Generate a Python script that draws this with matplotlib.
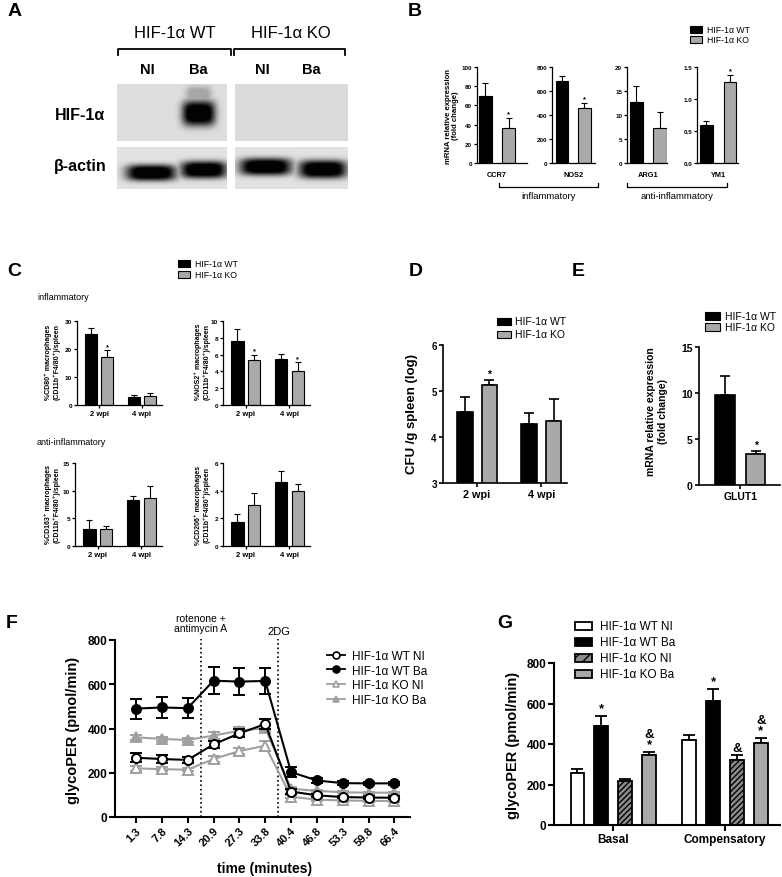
import numpy as np
import matplotlib
matplotlib.use('Agg')
import matplotlib.pyplot as plt
from matplotlib.patches import Rectangle
from matplotlib.lines import Line2D

plt.rcParams['font.family'] = ['Liberation Sans', 'DejaVu Sans']
plt.rcParams['hatch.linewidth'] = 1.0

# ---------------- DATA ----------------
# Panel A (western blot band intensities, lanes: WT NI, WT Ba, KO NI, KO Ba)
A_lanes = ['NI', 'Ba', 'NI', 'Ba']
A_hif_intensity = [0.0, 1.0, 0.0, 0.0]
A_actin_intensity = [1.0, 1.0, 1.0, 1.0]

# Panel B
B_genes = ['CCR7', 'NOS2', 'ARG1', 'YM1']
B_wt = [70, 685, 12.8, 0.60]
B_wt_err = [13, 40, 3.3, 0.05]
B_ko = [36.5, 462, 7.2, 1.26]
B_ko_err = [10.5, 40, 3.5, 0.12]
B_sig = [True, True, False, True]
B_yticks = [[0, 20, 40, 60, 80, 100], [0, 200, 400, 600, 800], [0, 5, 10, 15, 20], [0.0, 0.5, 1.0, 1.5]]

# Panel C
C_groups = ['2 wpi', '4 wpi']
C_names = ['CD80', 'NOS2', 'CD163', 'CD206']
C_wt = [[25.2, 3.0], [7.6, 5.5], [3.0, 8.3], [1.75, 4.65]]
C_wt_err = [[2.3, 0.7], [1.4, 0.55], [1.7, 0.7], [0.55, 0.75]]
C_ko = [[17.2, 3.2], [5.3, 4.0], [3.0, 8.6], [2.95, 3.95]]
C_ko_err = [[2.3, 1.2], [0.7, 1.1], [0.7, 2.2], [0.9, 0.55]]
C_sig = [[True, False], [True, True], [False, False], [False, False]]
C_yticks = [[0, 10, 20, 30], [0, 2, 4, 6, 8, 10], [0, 5, 10, 15], [0, 2, 4, 6]]

# Panel D
D_groups = ['2 wpi', '4 wpi']
D_wt = [4.55, 4.28]
D_wt_err = [0.32, 0.25]
D_ko = [5.13, 4.35]
D_ko_err = [0.12, 0.47]
D_sig = [True, False]

# Panel E
E_gene = ['GLUT1']
E_wt = [9.8]
E_wt_err = [2.0]
E_ko = [3.4]
E_ko_err = [0.35]

# Panel F
F_times = ['1.3', '7.8', '14.3', '20.9', '27.3', '33.8', '40.4', '46.8', '53.3', '59.8', '66.4']
F_wt_ni = [268, 262, 258, 328, 378, 420, 115, 98, 90, 88, 87]
F_wt_ni_err = [20, 18, 12, 15, 18, 24, 10, 8, 6, 6, 6]
F_wt_ba = [490, 495, 492, 616, 612, 615, 203, 165, 153, 152, 152]
F_wt_ba_err = [45, 47, 45, 62, 60, 58, 22, 12, 8, 8, 8]
F_ko_ni = [220, 216, 214, 262, 298, 322, 92, 78, 75, 73, 72]
F_ko_ni_err = [10, 10, 8, 12, 15, 22, 6, 5, 5, 5, 5]
F_ko_ba = [360, 353, 348, 368, 390, 402, 128, 118, 112, 110, 110]
F_ko_ba_err = [12, 10, 10, 15, 15, 15, 8, 6, 5, 5, 5]
F_injection_after = [2, 5]
F_injection_names = ['rotenone +\nantimycin A', '2DG']

# Panel G
G_groups = ['Basal', 'Compensatory']
G_labels = ['HIF-1α WT NI', 'HIF-1α WT Ba', 'HIF-1α KO NI', 'HIF-1α KO Ba']
G_vals = [[255, 418], [490, 613], [215, 320], [347, 405]]
G_errs = [[20, 28], [48, 60], [10, 25], [15, 25]]
G_marks = [['', ''], ['*', '*'], ['', '&'], ['&\n*', '&\n*']]

# ---------------- LAYOUT HELPERS ----------------
W, H = 782, 878
fig = plt.figure(figsize=(W / 100, H / 100), dpi=100)
GREY = '#a9a9a9'
LGREY = '#a0a0a0'


def add_ax(x0, y0, x1, y1):
    return fig.add_axes([x0 / W, 1 - y1 / H, (x1 - x0) / W, (y1 - y0) / H])


def ftext(x, y, s, **kw):
    kw.setdefault('ha', 'center')
    kw.setdefault('va', 'center')
    fig.text(x / W, 1 - y / H, s, **kw)


def fline(xs, ys, **kw):
    fig.add_artist(Line2D([x / W for x in xs], [1 - y / H for y in ys],
                          transform=fig.transFigure, **kw))


def fsquare(x0, y0, x1, y1, **kw):
    fig.add_artist(Rectangle((x0 / W, 1 - y1 / H), (x1 - x0) / W, (y1 - y0) / H,
                             transform=fig.transFigure, **kw))


def style_ax(ax, lw=1.0, tl=3):
    for s in ['top', 'right']:
        ax.spines[s].set_visible(False)
    for s in ['left', 'bottom']:
        ax.spines[s].set_linewidth(lw)
    ax.tick_params(direction='out', length=tl, width=lw, pad=1.5)
    ax.patch.set_visible(False)


def bar_pair(ax, pos, wt, wt_err, ko, ko_err, off, width, lw, caps):
    pos = np.asarray(pos, dtype=float)
    n = len(pos)
    ax.bar(pos - off, wt, width, color='black', edgecolor='black', linewidth=lw, zorder=2)
    ax.bar(pos + off, ko, width, color=GREY, edgecolor='black', linewidth=lw, zorder=2)
    ax.errorbar(pos - off, wt, yerr=[np.zeros(n), wt_err], fmt='none', ecolor='black',
                elinewidth=lw, capsize=caps, capthick=lw, zorder=1)
    ax.errorbar(pos + off, ko, yerr=[np.zeros(n), ko_err], fmt='none', ecolor='black',
                elinewidth=lw, capsize=caps, capthick=lw, zorder=1)


def star(ax, x, top, s, fs, dy=0.5):
    ax.annotate(s, (x, top), xytext=(0, dy), textcoords='offset points', ha='center',
                va='bottom', fontsize=fs, fontweight='bold', linespacing=0.85)


# ---------------- PANEL A ----------------
ftext(15, 12, 'A', fontsize=14, fontweight='bold')
ftext(175, 33, 'HIF-1α WT', fontsize=12)
ftext(291, 33, 'HIF-1α KO', fontsize=12)
fline([118, 118, 231, 231], [56, 50, 50, 56], color='black', lw=1.3)
fline([234, 234, 345, 345], [56, 50, 50, 56], color='black', lw=1.3)
for xl, lab in zip([147, 198, 262, 311], A_lanes):
    ftext(xl, 70, lab, fontsize=10.5, fontweight='bold')
ftext(80, 115, 'HIF-1α', fontsize=11.5, fontweight='bold')
ftext(80, 167, 'β-actin', fontsize=11.5, fontweight='bold')


def blot(box, bands, bg):
    x0, y0, x1, y1 = box
    ax = add_ax(x0, y0, x1, y1)
    w, h = x1 - x0, y1 - y0
    yy, xx = np.mgrid[0:h * 2, 0:w * 2] / 2.0
    dark = np.zeros_like(xx)
    for cx, cy, sx, sy, inten in bands:
        shape = np.exp(-np.abs((xx - cx) / sx) ** 4 - np.abs((yy - cy) / sy) ** 3)
        dark = np.maximum(dark, inten * np.clip(shape * 1.25, 0, 1))
    img = bg * (1 - dark) + 2 * dark
    ax.imshow(img, cmap='gray', vmin=0, vmax=255, extent=(0, w, h, 0), aspect='auto',
              interpolation='bilinear')
    ax.set_axis_off()


hif_wt = [(30, 28, 16, 12, A_hif_intensity[0]), (81.5, 29, 16.5, 12.5, A_hif_intensity[1]),
          (81.5, 11, 13, 9, 0.25 * A_hif_intensity[1])]
hif_ko = [(30, 28, 16, 12, A_hif_intensity[2]), (87, 28, 16, 12, A_hif_intensity[3])]
act_wt = [(34, 25.5, 25, 8, A_actin_intensity[0]), (86.5, 22.5, 23, 8.5, A_actin_intensity[1])]
act_ko = [(30.5, 19.5, 26, 8.5, A_actin_intensity[2]), (87.5, 22, 24, 9, A_actin_intensity[3])]
blot((117, 85, 227, 142), hif_wt, 222)
blot((235, 85, 348, 142), hif_ko, 219)
blot((117, 148, 227, 190), act_wt, 226)
blot((235, 148, 348, 190), act_ko, 226)

# ---------------- PANEL B ----------------
ftext(415, 12, 'B', fontsize=14, fontweight='bold')
fsquare(690, 27, 702, 34, facecolor='black', edgecolor='black', lw=0.8)
ftext(707, 30.5, 'HIF-1α WT', fontsize=6.3, ha='left')
fsquare(690, 37, 702, 44, facecolor=GREY, edgecolor='black', lw=0.8)
ftext(707, 40.5, 'HIF-1α KO', fontsize=6.3, ha='left')

B_boxes = [(477, 68, 527, 164), (552, 68, 595, 164), (627, 68, 667, 164), (697, 68, 738, 164)]
B_xlims = [(-0.36, 1.77), (-0.44, 1.47), (-0.38, 1.29), (-0.4, 1.34)]
for i, g in enumerate(B_genes):
    ax = add_ax(*B_boxes[i])
    style_ax(ax, lw=0.9, tl=2)
    ax.bar([0], [B_wt[i]], 0.55, color='black', edgecolor='black', lw=0.8, zorder=2)
    ax.bar([1], [B_ko[i]], 0.55, color=GREY, edgecolor='black', lw=0.8, zorder=2)
    ax.errorbar([0], [B_wt[i]], yerr=[[0], [B_wt_err[i]]], fmt='none', ecolor='black',
                elinewidth=0.8, capsize=2.2, capthick=0.8, zorder=1)
    ax.errorbar([1], [B_ko[i]], yerr=[[0], [B_ko_err[i]]], fmt='none', ecolor='black',
                elinewidth=0.8, capsize=2.2, capthick=0.8, zorder=1)
    if B_sig[i]:
        star(ax, 1, B_ko[i] + B_ko_err[i], '*', 5.5, dy=0.2)
    ax.set_xlim(*B_xlims[i])
    yt = B_yticks[i]
    ax.set_ylim(0, yt[-1])
    labs = [f'{t:.1f}' for t in yt] if yt[-1] < 2 else [str(int(t)) for t in yt]
    ax.set_yticks(yt, labs, fontsize=4.5, fontweight='bold')
    ax.set_xticks([0.5], [g], fontsize=5.3, fontweight='bold')
    ax.tick_params(axis='x', length=0, pad=6)

ftext(452, 116, 'mRNA relative expression\n(fold change)', fontsize=5.6, fontweight='bold',
      rotation=90, linespacing=1.1)
fline([499, 499, 598, 598], [184, 188, 188, 184], color='black', lw=0.9)
fline([627, 627, 727, 727], [184, 188, 188, 184], color='black', lw=0.9)
ftext(549, 197, 'inflammatory', fontsize=6.8)
ftext(677, 197, 'anti-inflammatory', fontsize=6.8)

# ---------------- PANEL C ----------------
ftext(14, 272, 'C', fontsize=14, fontweight='bold')
fsquare(178, 261, 190, 268, facecolor='black', edgecolor='black', lw=0.8)
ftext(195, 264.5, 'HIF-1α WT', fontsize=6.3, ha='left')
fsquare(178, 272, 190, 279, facecolor=GREY, edgecolor='black', lw=0.8)
ftext(195, 275.5, 'HIF-1α KO', fontsize=6.3, ha='left')
ftext(37, 297, 'inflammatory', fontsize=6.5, ha='left')
ftext(37, 443, 'anti-inflammatory', fontsize=6.5, ha='left')

C_boxes = [(77, 322, 162, 406), (223, 322, 310, 406), (75, 464, 162, 547), (223, 464, 310, 547)]
C_label_pos = [(52, 362), (202, 362), (52, 505), (202, 505)]
for i in range(4):
    ax = add_ax(*C_boxes[i])
    style_ax(ax, lw=0.9, tl=2)
    bar_pair(ax, [0, 1], C_wt[i], C_wt_err[i], C_ko[i], C_ko_err[i], 0.19, 0.28, 0.8, 2.2)
    for j in range(2):
        if C_sig[i][j]:
            star(ax, j + 0.19, C_ko[i][j] + C_ko_err[i][j], '*', 5.5, dy=0.2)
    ax.set_xlim(-0.52, 1.47)
    yt = C_yticks[i]
    ax.set_ylim(0, yt[-1])
    ax.set_yticks(yt, [str(t) for t in yt], fontsize=4.6, fontweight='bold')
    ax.set_xticks([0, 1], C_groups, fontsize=5.5, fontweight='bold')
    lx, ly = C_label_pos[i]
    ftext(lx, ly, f'%{C_names[i]}⁺ macrophages\n(CD11b⁺F4/80⁺)/spleen', fontsize=5,
          fontweight='bold', rotation=90, linespacing=1.15)

# ---------------- PANEL D ----------------
ftext(416, 272, 'D', fontsize=14, fontweight='bold')
fsquare(497, 319, 511, 326, facecolor='black', edgecolor='black', lw=0.8)
ftext(515, 322.5, 'HIF-1α WT', fontsize=7.5, ha='left')
fsquare(497, 332, 511, 339, facecolor=GREY, edgecolor='black', lw=0.8)
ftext(515, 335.5, 'HIF-1α KO', fontsize=7.5, ha='left')
ax = add_ax(443, 346, 567, 484)
style_ax(ax, lw=1.2, tl=3)
bar_pair(ax, [0, 1], D_wt, D_wt_err, D_ko, D_ko_err, 0.19, 0.24, 1.2, 3.5)
for j in range(2):
    if D_sig[j]:
        star(ax, j + 0.19, D_ko[j] + D_ko_err[j], '*', 7.5)
ax.set_xlim(-0.53, 1.4)
ax.set_ylim(3, 6)
ax.set_yticks([3, 4, 5, 6], ['3', '4', '5', '6'], fontsize=7, fontweight='bold')
ax.set_xticks([0, 1], D_groups, fontsize=7.8, fontweight='bold')
ftext(412, 414, 'CFU /g spleen (log)', fontsize=9.5, fontweight='bold', rotation=90)

# ---------------- PANEL E ----------------
ftext(578, 272, 'E', fontsize=14, fontweight='bold')
fsquare(705, 313, 720, 321, facecolor='black', edgecolor='black', lw=0.8)
ftext(725, 317, 'HIF-1α WT', fontsize=7.5, ha='left')
fsquare(705, 324, 720, 332, facecolor=GREY, edgecolor='black', lw=0.8)
ftext(725, 328, 'HIF-1α KO', fontsize=7.5, ha='left')
ax = add_ax(699, 348, 780, 486)
style_ax(ax, lw=1.2, tl=3)
ax.bar([0], E_wt, 0.64, color='black', edgecolor='black', lw=1.2, zorder=2)
ax.bar([1], E_ko, 0.64, color=GREY, edgecolor='black', lw=1.2, zorder=2)
ax.errorbar([0], E_wt, yerr=[[0], E_wt_err], fmt='none', ecolor='black', elinewidth=1.2,
            capsize=3.5, capthick=1.2, zorder=1)
ax.errorbar([1], E_ko, yerr=[[0], E_ko_err], fmt='none', ecolor='black', elinewidth=1.2,
            capsize=3.5, capthick=1.2, zorder=1)
star(ax, 1, E_ko[0] + E_ko_err[0], '*', 7.5)
ax.set_xlim(-0.85, 1.8)
ax.set_ylim(0, 15)
ax.set_yticks([0, 5, 10, 15], ['0', '5', '10', '15'], fontsize=7.5, fontweight='bold')
ax.set_xticks([0.5], E_gene, fontsize=7.5, fontweight='bold')
ftext(657, 412, 'mRNA relative expression\n(fold change)', fontsize=7.5, fontweight='bold',
      rotation=90, linespacing=1.15)

# ---------------- PANEL F ----------------
ftext(12, 623, 'F', fontsize=14, fontweight='bold')
ax = add_ax(115, 641, 410, 818)
style_ax(ax, lw=1.5, tl=4)
x = np.arange(len(F_times))
series = [
    (F_ko_ni, F_ko_ni_err, LGREY, '^', 'white', 'HIF-1α KO NI'),
    (F_ko_ba, F_ko_ba_err, LGREY, '^', LGREY, 'HIF-1α KO Ba'),
    (F_wt_ni, F_wt_ni_err, 'black', 'o', 'white', 'HIF-1α WT NI'),
    (F_wt_ba, F_wt_ba_err, 'black', 'o', 'black', 'HIF-1α WT Ba'),
]
handles = {}
for vals, err, c, m, mfc, lab in series:
    ax.errorbar(x, vals, yerr=err, color=c, marker=m, mfc=mfc, mec=c, ms=6.5, mew=1.4,
                lw=1.5, capsize=4, elinewidth=1.4, capthick=1.4, zorder=3 if c == 'black' else 2)
    handles[lab] = Line2D([], [], color=c, marker=m, mfc=mfc, mec=c, ms=5, mew=1.2, lw=1.3)
for k, i in enumerate(F_injection_after):
    ax.plot([i + 0.5, i + 0.5], [0, 805], ls=':', color='black', lw=1.2, clip_on=False)
ftext(201, 624, F_injection_names[0], fontsize=7.5, linespacing=1.1)
ftext(279, 632, F_injection_names[1], fontsize=8)
ax.set_xlim(-0.81, 10.6)
ax.set_ylim(0, 800)
ax.set_yticks([0, 200, 400, 600, 800], ['0', '200', '400', '600', '800'], fontsize=8.5,
              fontweight='bold')
ax.set_xticks(x, F_times, fontsize=8, fontweight='bold', rotation=45, ha='right',
              rotation_mode='anchor')
ax.tick_params(axis='x', pad=2)
ftext(265, 869, 'time (minutes)', fontsize=10, fontweight='bold')
ftext(73, 730, 'glycoPER (pmol/min)', fontsize=10.5, fontweight='bold', rotation=90)
order = ['HIF-1α WT NI', 'HIF-1α WT Ba', 'HIF-1α KO NI', 'HIF-1α KO Ba']
ax.legend([handles[o] for o in order], order, loc='upper left',
          bbox_to_anchor=(327 / W, 1 - 651 / H), bbox_transform=fig.transFigure,
          frameon=False, fontsize=8.5, handlelength=1.5, handletextpad=0.6,
          labelspacing=0.22, borderpad=0, borderaxespad=0)

# ---------------- PANEL G ----------------
ftext(505, 623, 'G', fontsize=14, fontweight='bold')
ax = add_ax(554, 664, 780, 826)
style_ax(ax, lw=1.5, tl=4)
G_face = ['white', 'black', '#8c8c8c', GREY]
G_hatch = ['', '', '//////', '']
G_off = [-0.32, -0.107, 0.107, 0.32]
gx = np.arange(len(G_groups))
for k in range(4):
    ax.bar(gx + G_off[k], G_vals[k], 0.125, color=G_face[k], edgecolor='black', lw=1.3,
           hatch=G_hatch[k], zorder=2)
    ax.errorbar(gx + G_off[k], G_vals[k], yerr=[np.zeros(2), G_errs[k]], fmt='none',
                ecolor='black', elinewidth=1.3, capsize=4, capthick=1.3, zorder=1)
    for j in range(2):
        if G_marks[k][j]:
            star(ax, gx[j] + G_off[k], G_vals[k][j] + G_errs[k][j], G_marks[k][j], 9.5, dy=1)
ax.set_xlim(-0.53, 1.49)
ax.set_ylim(0, 800)
ax.set_yticks([0, 200, 400, 600, 800], ['0', '200', '400', '600', '800'], fontsize=8.5,
              fontweight='bold')
ax.set_xticks(gx, G_groups, fontsize=8.5, fontweight='bold')
ftext(513, 745, 'glycoPER (pmol/min)', fontsize=10.5, fontweight='bold', rotation=90)
for k, yy in enumerate([627, 643, 659, 675]):
    fsquare(575, yy - 4, 592, yy + 4, facecolor=G_face[k], edgecolor='black', lw=1.3,
            hatch=G_hatch[k][:3])
    ftext(600, yy, G_labels[k], fontsize=8.5, ha='left')

fig.savefig('out.png', dpi=100)
